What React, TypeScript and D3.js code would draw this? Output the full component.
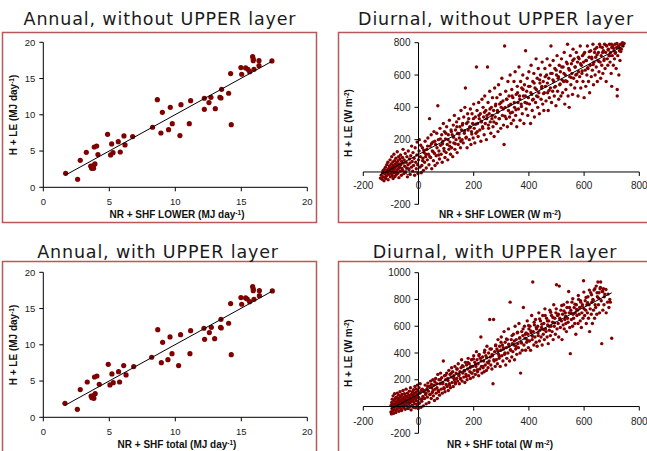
import React from "react";
import * as d3 from "d3";

// annual daily totals (MJ day-1)
const annualLowerX = [1.69, 2.6, 2.8, 3.26, 3.59, 3.66, 3.81, 3.91, 3.79, 3.86, 4.04, 4.14, 4.87, 5.18, 5.1, 5.28, 5.68, 5.83, 6.11, 6.19, 6.77, 8.28, 8.64, 9.02, 8.91, 9.49, 9.62, 9.77, 10.35, 10.43, 11.06, 11.16, 12.2, 12.2, 12.55, 12.7, 13.03, 13.38, 13.46, 13.51, 14.04, 14.19, 14.24, 14.97, 15.03, 15.33, 15.5, 15.63, 15.86, 15.91, 15.91, 15.96, 16.34, 16.34, 17.32];
const annualLowerY = [1.93, 1.1, 3.72, 4.83, 2.94, 2.62, 2.62, 3.22, 2.99, 5.56, 5.7, 4.51, 7.31, 5.98, 4.46, 4.78, 6.3, 4.87, 7.08, 5.84, 6.99, 8.28, 12.09, 10.34, 7.49, 7.95, 11.03, 8.78, 7.13, 11.4, 8.78, 11.95, 12.28, 10.76, 11.68, 12.41, 10.85, 12.41, 12.32, 13.52, 12.97, 15.68, 8.64, 16.51, 15.59, 16.46, 16.28, 15.95, 18.02, 17.7, 17.47, 16.28, 17.47, 16.78, 17.43];
const annualTotalX = [1.64, 2.58, 2.8, 3.33, 3.62, 3.68, 3.83, 3.93, 3.8, 3.88, 4.06, 4.24, 4.92, 5.2, 5.05, 5.3, 5.7, 5.78, 6.09, 6.27, 6.85, 8.21, 8.67, 9.04, 8.94, 9.44, 9.6, 9.75, 10.25, 10.4, 11.11, 11.16, 12.17, 12.22, 12.58, 12.73, 12.98, 13.48, 13.43, 13.46, 14.04, 14.19, 14.24, 14.97, 15.03, 15.33, 15.45, 15.63, 15.86, 15.91, 15.91, 15.96, 16.37, 16.37, 17.35];
const annualTotalY = [1.93, 1.1, 3.82, 4.87, 2.94, 2.7, 2.62, 3.26, 2.99, 5.56, 5.7, 4.55, 7.31, 5.98, 4.46, 4.78, 6.3, 4.87, 7.13, 5.84, 6.99, 8.28, 12.09, 10.34, 7.54, 7.95, 11.08, 8.78, 7.13, 11.4, 8.78, 11.95, 12.28, 10.76, 11.68, 12.41, 10.85, 12.32, 12.41, 13.52, 12.97, 15.68, 8.64, 16.51, 15.59, 16.46, 16.32, 15.95, 18.02, 17.7, 17.47, 16.28, 17.47, 16.78, 17.43];

// diurnal half-hourly fluxes (W m-2), [available energy, H + LE]
const diurnalLower = [
  [-138,-38],[-135,-20],[-132,-45],[-130,-5],[-128,10],[-127,-30],[-125,-55],[-124,15],[-122,-12],[-120,30],[-119,-40],[-118,0],[-116,-25],[-115,45],[-114,12],[-112,-8],[-111,60],[-110,-48],[-108,22],[-107,-15],[-105,38],[-104,5],[-103,75],[-102,-30],[-100,18],[-99,50],[-98,-10],[-97,95],[-96,30],[-95,-22],[-94,8],[-93,62],[-92,-40],[-91,40],[-90,15],[-89,110],[-88,-5],[-87,70],[-86,25],[-85,-28],[-84,48],[-83,0],[-82,85],[-81,35],[-80,-15],[-79,58],[-78,12],[-77,125],[-76,40],[-75,-8],[-74,70],[-73,20],[-72,95],[-71,-35],[-70,50],[-68,30],[-67,80],[-66,5],[-65,105],[-64,45],[-62,-20],[-61,65],[-60,22],[-58,90],[-57,10],[-56,140],[-55,55],[-53,-10],[-52,75],[-50,35],[-48,115],[-47,0],[-45,60],[-43,25],[-42,95],[-40,-30],[-38,45],[-37,130],[-35,15],[-33,80],[-31,55],[-30,-15],[-28,100],[-26,30],[-25,160],[-23,65],[-21,5],[-20,120],[-18,40],[-16,85],[-14,-20],[-12,150],[-10,60],[-8,20],[-6,105],[-5,185],[-3,45],[-2,-10],[0,75],[2,130],[3,200],[5,30],[7,95],[8,165],[10,-5],
  [12,40],[14,150],[16,85],[18,10],[20,120],[22,60],[24,190],[26,95],[28,25],[30,140],[32,75],[34,210],[36,110],[38,45],[40,330],[42,160],[44,90],[46,230],[48,20],[50,130],
  [52,185],[54,70],[56,250],[58,115],[60,40],[62,170],[64,100],[66,240],[68,55],[70,410],[72,200],[74,130],[76,80],[78,270],[80,165],[82,110],[84,230],[86,60],[88,190],[90,300],
  [92,145],[94,250],[96,90],[98,205],[100,120],[102,280],[104,170],[106,75],[108,230],[110,140],[112,320],[114,185],[116,110],[118,260],[120,150],[122,230],[124,95],[126,290],[128,180],[130,350],
  [132,140],[134,260],[136,200],[138,310],[140,120],[142,240],[144,170],[146,330],[148,210],[150,280],[152,150],[154,380],[156,260],[158,200],[160,300],[162,180],[164,340],[166,240],[168,400],[170,520],
  [172,210],[174,300],[176,150],[178,360],[180,260],[182,330],[184,200],[186,280],[188,390],[190,170],[192,250],[194,360],[196,300],[198,210],[200,420],[202,270],[204,180],[206,340],[208,240],[210,650],
  [212,380],[214,300],[216,220],[218,430],[220,330],[222,260],[224,360],[226,190],[228,310],[230,450],[232,280],[234,400],[236,340],[238,230],[240,470],[242,300],[244,380],[246,200],[248,350],[250,650],
  [252,430],[254,270],[256,360],[258,500],[260,310],[262,240],[264,400],[266,330],[268,460],[270,280],[272,380],[274,220],[276,520],[278,340],[280,420],[282,300],[284,460],[286,380],[288,250],[290,540],
  [292,330],[294,420],[296,480],[298,270],[300,400],[302,580],[304,350],[306,440],[308,290],[310,170],[312,780],[314,400],[316,500],[318,330],[320,450],[322,280],[324,560],[326,380],[328,470],[330,340],
  [332,600],[334,420],[336,300],[338,510],[340,370],[342,460],[344,320],[346,560],[348,400],[350,620],[352,350],[354,480],[356,280],[358,530],[360,430],[362,390],[364,650],[366,470],[368,320],[370,560],
  [372,420],[374,520],[376,360],[378,600],[380,470],[382,300],[384,540],[386,430],[388,750],[390,390],[392,500],[394,580],[396,350],[398,460],[400,620],[402,420],[404,530],[406,300],[408,660],[410,480],
  [412,380],[414,560],[416,450],[418,610],[420,340],[422,520],[424,430],[426,700],[428,470],[430,580],[432,400],[434,640],[436,490],[438,360],[440,550],[442,600],[444,450],[446,520],[448,680],[450,420],
  [452,560],[454,380],[456,490],[458,640],[460,530],[462,440],[464,600],[466,700],[468,490],[470,380],[472,580],[474,460],[476,660],[478,520],[480,780],[482,430],[484,610],[486,500],[488,690],[490,560],
  [492,470],[494,640],[496,530],[498,410],[500,600],[502,720],[504,500],[506,580],[508,450],[510,660],[512,540],[514,620],[516,470],[518,700],[520,570],[522,490],[524,650],[526,560],[528,740],[530,420],
  [532,600],[534,510],[536,680],[538,560],[540,790],[542,470],[544,640],[546,400],[548,590],[550,720],[552,540],[554,670],[556,610],[558,480],[560,760],[562,580],[564,700],[566,520],[568,650],[570,600],
  [572,740],[574,560],[576,680],[578,470],[580,620],[582,700],[584,590],[586,780],[588,520],[590,660],[592,610],[594,720],[596,560],[598,680],[600,460],[602,740],[604,630],[606,530],[608,690],[610,600],
  [612,780],[614,640],[616,560],[618,710],[620,490],[622,660],[624,750],[626,590],[628,700],[630,630],[632,790],[634,540],[636,680],[638,740],[640,600],[642,710],[644,650],[646,770],[648,560],[650,690],
  [652,740],[654,620],[656,790],[658,680],[660,580],[662,720],[664,660],[666,770],[668,610],[670,750],[672,690],[674,790],[676,640],[678,740],[680,560],[682,780],[684,700],[686,660],[688,760],[690,720],
  [692,790],[694,680],[696,740],[698,610],[700,770],[702,720],[704,780],[706,660],[708,750],[710,700],[712,790],[714,740],[716,640],[718,770],[720,470],[722,720],[724,780],[726,600],[728,750],[730,690],
  [732,790],[735,760],[738,790],[741,780],[745,795],[720,510],[700,530],
  [15,70],[19,135],[27,110],[33,160],[41,95],[47,175],[53,125],[59,190],[67,150],[73,105],[79,205],[87,175],[93,130],[99,240],[107,200],[113,160],[119,250],[127,215],[133,175],[139,280],[147,235],[153,190],[159,290],[167,255],[173,215],[179,310],[187,275],[193,235],[199,330],[207,295],
  [213,250],[219,350],[227,315],[233,270],[239,370],[247,330],[253,290],[259,390],[267,350],[273,310],[279,410],[287,370],[293,330],[299,430],[307,390],[313,345],[319,450],[327,410],[333,365],[339,470],[347,430],[353,385],[359,490],[367,450],[373,405],[379,510],[387,470],[393,425],[399,530],[407,490],
  [413,445],[419,550],[427,510],[433,465],[439,570],[447,530],[453,485],[459,590],[467,550],[473,505],[479,610],[487,570],[493,525],[499,630],[507,590],[513,545],[519,650],[527,610],[533,565],[539,670],[547,630],[553,585],[559,690],[567,650],[573,605],[579,710],[587,670],[593,625],[599,730],[607,690],
  [613,645],[619,745],[627,710],[633,665],[639,760],[647,725],[653,685],[659,775],[667,740],[673,700],[679,785],[687,755],[693,720],[699,790],[707,765],[713,735],[719,795],[727,770],[733,745],[739,800]
];

const diurnalTotal = [
  [-100,-40],[-99,10],[-98,-55],[-97,30],[-96,-15],[-95,55],[-94,0],[-93,-30],[-92,80],[-91,20],[-90,-50],[-89,45],[-88,-5],[-87,95],[-86,15],[-85,-25],[-84,60],[-83,35],[-82,-45],[-81,5],[-80,70],[-79,25],[-78,-20],[-77,100],[-76,40],[-75,-8],[-74,55],[-73,15],[-72,85],[-71,-35],[-70,30],[-69,65],[-68,0],[-67,110],[-66,45],[-65,-15],[-64,75],[-63,20],[-62,50],[-61,-30],[-60,90],[-59,35],[-58,5],[-57,60],[-56,120],[-55,25],[-54,-10],[-53,70],[-52,40],[-51,95],[-50,10],[-49,55],[-48,-20],[-47,80],[-46,30],[-45,130],[-44,50],[-43,5],[-42,75],[-41,35],[-40,100],[-38,-15],[-37,60],[-36,20],[-35,85],[-34,45],[-33,115],[-32,0],[-31,70],[-30,30],[-29,140],[-28,55],[-27,-25],[-26,90],[-25,40],[-24,65],[-23,10],[-22,110],[-21,50],[-20,80],[-19,-5],[-18,125],[-17,35],[-16,95],[-15,60],[-14,20],[-13,150],[-12,75],[-11,-10],[-10,105],[-9,45],[-8,130],[-7,65],[-6,15],[-5,90],[-4,160],[-3,40],[-2,115],[-1,-15],[0,70],[2,140],[3,25],[5,100],[6,170],[8,55],[9,-5],[10,120],
  [12,40],[14,130],[16,75],[18,5],[20,110],[22,60],[24,160],[26,90],[28,20],[30,130],[32,70],[34,175],[36,115],[38,30],[40,150],[42,90],[44,190],[46,60],[48,140],[50,105],
  [52,200],[54,80],[56,160],[58,45],[60,130],[62,210],[64,100],[66,170],[68,60],[70,240],[72,120],[74,200],[76,85],[78,170],[80,250],[82,130],[84,215],[86,100],[88,180],[90,340],
  [92,140],[94,230],[96,110],[98,200],[100,165],[102,250],[104,150],[106,210],[108,120],[110,270],[112,170],[114,240],[116,140],[118,220],[120,290],[122,180],[124,260],[126,150],[128,230],[130,200],
  [132,300],[134,170],[136,250],[138,210],[140,280],[142,190],[144,320],[146,230],[148,170],[150,260],[152,210],[154,290],[156,350],[158,190],[160,250],[162,300],[164,220],[166,270],[168,180],[170,330],
  [172,240],[174,310],[176,200],[178,280],[180,360],[182,230],[184,320],[186,260],[188,210],[190,300],[192,350],[194,250],[196,300],[198,220],[200,380],[202,270],[204,330],[206,240],[208,300],[210,410],
  [212,350],[214,260],[216,320],[218,230],[220,390],[222,280],[224,360],[226,520],[228,300],[230,250],[232,370],[234,290],[236,340],[238,260],[240,420],[242,310],[244,380],[246,270],[248,450],[250,330],
  [252,290],[254,400],[256,340],[258,650],[260,370],[262,310],[264,430],[266,280],[268,380],[270,170],[272,650],[274,340],[276,410],[278,300],[280,460],[282,350],[284,430],[286,320],[288,500],[290,390],
  [292,360],[294,450],[296,300],[298,420],[300,520],[302,380],[304,460],[306,340],[308,430],[310,560],[312,390],[314,480],[316,310],[318,440],[320,360],[322,500],[324,400],[326,580],[328,450],[330,340],
  [332,780],[334,420],[336,500],[338,370],[340,470],[342,410],[344,540],[346,460],[348,350],[350,600],[352,430],[354,500],[356,390],[358,550],[360,470],[362,440],[364,620],[366,510],[368,400],[370,250],
  [372,480],[374,560],[376,420],[378,530],[380,740],[382,460],[384,600],[386,510],[388,420],[390,550],[392,480],[394,640],[396,540],[398,440],[400,580],[402,490],[404,600],[406,420],[408,550],[410,680],
  [412,500],[414,930],[416,560],[418,460],[420,610],[422,520],[424,650],[426,480],[428,580],[430,450],[432,600],[434,530],[436,700],[438,490],[440,570],[442,640],[444,520],[446,590],[448,460],[450,680],
  [452,540],[454,620],[456,500],[458,730],[460,580],[462,560],[464,660],[466,520],[468,610],[470,470],[472,640],[474,570],[476,720],[478,530],[480,600],[482,680],[484,560],[486,630],[488,500],[490,760],
  [492,600],[494,660],[496,540],[498,700],[500,910],[502,580],[504,680],[506,620],[508,520],[510,900],[512,660],[514,590],[516,720],[518,640],[520,500],[522,690],[524,610],[526,760],[528,580],[530,650],
  [532,700],[534,620],[536,560],[538,740],[540,660],[542,630],[544,860],[546,700],[548,590],[550,395],[552,720],[554,650],[556,780],[558,600],[560,690],[562,660],[564,740],[566,620],[568,700],[570,540],
  [572,760],[574,680],[576,720],[578,620],[580,800],[582,690],[584,740],[586,640],[588,780],[590,590],[592,700],[594,760],[596,660],[598,940],[600,730],[602,680],[604,790],[606,720],[608,620],[610,760],
  [612,700],[614,820],[616,660],[618,760],[620,560],[622,730],[624,850],[626,690],[628,780],[630,620],[632,800],[634,720],[636,870],[638,660],[640,760],[642,740],[644,900],[646,690],[648,820],[650,930],
  [652,760],[654,850],[656,700],[658,880],[660,930],[662,790],[664,470],[666,860],[668,720],[670,880],[672,760],[675,840],[680,700],[685,780],[690,740],[695,780],[700,510],
  [15,60],[19,120],[27,100],[33,150],[41,90],[47,165],[53,120],[59,185],[67,140],[73,110],[79,200],[87,170],[93,135],[99,235],[107,195],[113,160],[119,250],[127,215],[133,180],[139,280],[147,240],[153,205],[159,305],[167,265],[173,225],[179,330],[187,290],[193,250],[199,355],[207,315],
  [213,275],[219,380],[227,340],[233,300],[239,405],[247,365],[253,325],[259,430],[267,390],[273,350],[279,455],[287,415],[293,375],[299,480],[307,440],[313,400],[319,505],[327,465],[333,425],[339,530],[347,490],[353,450],[359,555],[367,515],[373,475],[379,580],[387,540],[393,500],[399,605],[407,565],
  [413,525],[419,630],[427,590],[433,550],[439,655],[447,615],[453,575],[459,680],[467,640],[473,600],[479,705],[487,665],[493,625],[499,730],[507,690],[513,650],[519,755],[527,715],[533,675],[539,780],[547,740],[553,700],[559,805],[567,765],[573,725],[579,830],[587,790],[593,750],[599,855],[607,815],
  [613,775],[619,870],[627,835],[633,795],[639,880],[647,850],[653,810],[659,890],[667,860],[673,820],[679,875],[687,840],[693,800]
];

const annualTicks = [0, 5, 10, 15, 20];
const diurnalXTicks = [-200, 0, 200, 400, 600, 800];
const diurnalLowerYTicks = [-200, 0, 200, 400, 600, 800];
const diurnalTotalYTicks = [-200, 0, 200, 400, 600, 800, 1000];

const titles = [
  "Annual, without UPPER layer",
  "Diurnal, without UPPER layer",
  "Annual, with UPPER layer",
  "Diurnal, with UPPER layer",
];

const DOT = "#800000";
const FRAME = "#b9585a";

function fit(xs: number[], ys: number[]) {
  const mx = d3.mean(xs)!, my = d3.mean(ys)!;
  let sxy = 0, sxx = 0;
  xs.forEach((x, i) => {
    sxy += (x - mx) * (ys[i] - my);
    sxx += (x - mx) * (x - mx);
  });
  const slope = sxy / sxx;
  return { slope, intercept: my - slope * mx };
}

function Label({ x, y, parts, rotate }: any) {
  const t = rotate ? `rotate(-90,${x},${y})` : undefined;
  return (
    <text x={x} y={y} transform={t} textAnchor="middle" fontFamily="Liberation Sans, Arial, sans-serif"
      fontSize={10} fontWeight="bold" fill="#111">
      <tspan>{parts[0]}</tspan>
      <tspan dy={-3.5} fontSize={6.5}>{parts[1]}</tspan>
      <tspan dy={3.5}>{parts[2]}</tspan>
    </text>
  );
}

function Panel({ c }: any) {
  const x = d3.scaleLinear().domain(c.xDomain).range(c.xRange);
  const y = d3.scaleLinear().domain(c.yDomain).range(c.yRange);
  const { slope, intercept } = fit(c.xs, c.ys);
  const [x0, x1] = d3.extent(c.xs) as [number, number];
  const ax = x(0), ay = y(0);
  const clipId = `clip-${c.id}`;
  const tickFont = "Liberation Sans, Arial, sans-serif";
  return (
    <g>
      <rect x={c.frame[0]} y={c.frame[1]} width={c.frame[2]} height={c.frame[3]} fill="none" stroke={FRAME} strokeWidth={1.5} />
      <text x={c.titlePos[0]} y={c.titlePos[1]} textAnchor="middle" fontFamily="DejaVu Sans, Verdana, sans-serif"
        fontSize={17.5} letterSpacing={0.85} fill="#1a1a1a">{c.title}</text>
      <clipPath id={clipId}>
        <rect x={c.xRange[0]} y={c.yRange[1]} width={c.xRange[1] - c.xRange[0]} height={c.yRange[0] - c.yRange[1]} />
      </clipPath>
      {c.xs.map((v: number, i: number) => (
        <circle key={i} cx={x(v)} cy={y(c.ys[i])} r={c.r} fill={DOT} />
      ))}
      <line clipPath={`url(#${clipId})`} x1={x(x0)} y1={y(slope * x0 + intercept)} x2={x(x1)} y2={y(slope * x1 + intercept)} stroke="#000" strokeWidth={1} />
      {/* axes */}
      <line x1={c.xRange[0]} x2={c.xRange[1]} y1={ay} y2={ay} stroke="#000" strokeWidth={1} />
      <line x1={ax} x2={ax} y1={c.yRange[0]} y2={c.yRange[1]} stroke="#000" strokeWidth={1} />
      {c.xTicks.map((t: number) => (
        <g key={"x" + t}>
          <line x1={x(t)} x2={x(t)} y1={ay} y2={ay + 4} stroke="#000" />
          <text x={x(t)} y={ay + c.xTickOff} textAnchor="middle" fontFamily={tickFont} fontSize={c.tickSize} fill="#222">{t}</text>
        </g>
      ))}
      {c.yTicks.map((t: number) => (
        <g key={"y" + t}>
          <line x1={ax - 4} x2={ax} y1={y(t)} y2={y(t)} stroke="#000" />
          <text x={ax - 8} y={y(t)} dy="0.35em" textAnchor="end" fontFamily={tickFont} fontSize={c.tickSize} fill="#222">{t}</text>
        </g>
      ))}
      <Label x={c.xLabelPos[0]} y={c.xLabelPos[1]} parts={c.xLabel} />
      <Label x={c.yLabelPos[0]} y={c.yLabelPos[1]} parts={c.yLabel} rotate />
    </g>
  );
}

export default function App() {
  const panels = [
    {
      id: "a1", title: titles[0], titlePos: [160, 25], frame: [2.5, 32.5, 314, 190],
      xDomain: [0, 20], xRange: [43.3, 307.3], yDomain: [0, 20], yRange: [187.3, 42.3],
      xTicks: annualTicks, yTicks: annualTicks, xTickOff: 18, tickSize: 9.5,
      xs: annualLowerX, ys: annualLowerY, r: 2.6,
      xLabel: ["NR + SHF LOWER (MJ day", "-1", ")"], xLabelPos: [177, 218],
      yLabel: ["H + LE (MJ day", "-1", ")"], yLabelPos: [17, 115],
    },
    {
      id: "d1", title: titles[1], titlePos: [496, 25], frame: [338.5, 32.5, 320, 190],
      xDomain: [-200, 800], xRange: [363.3, 639.3], yDomain: [-200, 800], yRange: [204.3, 42.7],
      xTicks: diurnalXTicks, yTicks: diurnalLowerYTicks, xTickOff: 17, tickSize: 10,
      xs: diurnalLower.map((p) => p[0]), ys: diurnalLower.map((p) => p[1]), r: 1.7,
      xLabel: ["NR + SHF LOWER (W m", "-2", ")"], xLabelPos: [500, 218],
      yLabel: ["H + LE (W m", "-2", ")"], yLabelPos: [352, 123],
    },
    {
      id: "a2", title: titles[2], titlePos: [158, 258], frame: [2.5, 261.5, 314, 200],
      xDomain: [0, 20], xRange: [43.3, 307.3], yDomain: [0, 20], yRange: [417.3, 272.3],
      xTicks: annualTicks, yTicks: annualTicks, xTickOff: 18, tickSize: 9.5,
      xs: annualTotalX, ys: annualTotalY, r: 2.6,
      xLabel: ["NR + SHF total (MJ day", "-1", ")"], xLabelPos: [177, 448],
      yLabel: ["H + LE (MJ day", "-1", ")"], yLabelPos: [17, 345],
    },
    {
      id: "d2", title: titles[3], titlePos: [495, 258], frame: [338.5, 261.5, 320, 200],
      xDomain: [-200, 800], xRange: [363.3, 639.3], yDomain: [-200, 1000], yRange: [433.3, 272.7],
      xTicks: diurnalXTicks, yTicks: diurnalTotalYTicks, xTickOff: 18, tickSize: 10,
      xs: diurnalTotal.map((p) => p[0]), ys: diurnalTotal.map((p) => p[1]), r: 1.7,
      xLabel: ["NR + SHF total (W m", "-2", ")"], xLabelPos: [500, 448],
      yLabel: ["H + LE (W m", "-2", ")"], yLabelPos: [352, 353],
    },
  ];
  return (
    <svg width={647} height={451} style={{ position: "absolute", left: 0, top: 0, background: "#fff" }}>
      {panels.map((c) => <Panel key={c.id} c={c} />)}
    </svg>
  );
}
